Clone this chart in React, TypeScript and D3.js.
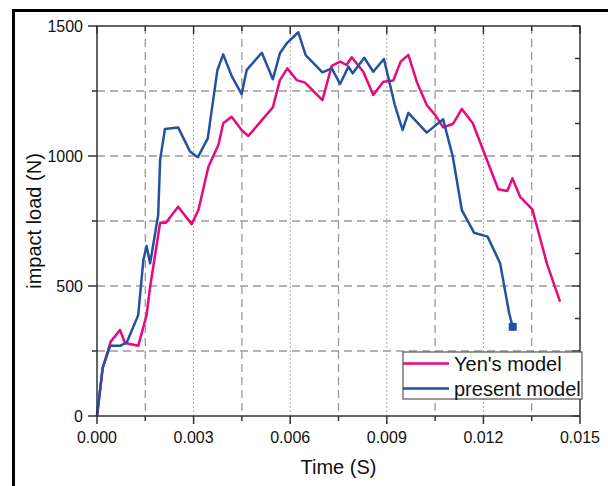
import React from "react";
import * as d3 from "d3";

const yenTime = [0, 0.000177, 0.000425, 0.000714, 0.00087, 0.00128, 0.00154, 0.00165, 0.00196, 0.00214, 0.00252, 0.00294, 0.00315, 0.00346, 0.00377, 0.00392, 0.00418, 0.00449, 0.0047, 0.00512, 0.00546, 0.00568, 0.00591, 0.0062, 0.00646, 0.007, 0.00729, 0.00755, 0.00775, 0.00791, 0.00827, 0.00858, 0.00889, 0.0092, 0.00943, 0.00967, 0.00993, 0.01024, 0.0105, 0.01075, 0.01105, 0.01133, 0.01167, 0.01246, 0.01274, 0.0129, 0.01314, 0.01352, 0.01397, 0.01438];
const yenLoad = [0, 185, 286, 331, 281, 270, 388, 497, 743, 743, 805, 738, 792, 959, 1042, 1126, 1151, 1100, 1077, 1138, 1187, 1292, 1337, 1292, 1282, 1215, 1347, 1363, 1350, 1380, 1324, 1235, 1286, 1290, 1363, 1389, 1286, 1196, 1158, 1110, 1123, 1181, 1126, 872, 865, 914, 843, 795, 587, 440];

const presentTime = [0, 0.000177, 0.00041, 0.000714, 0.00092, 0.00128, 0.00144, 0.00154, 0.00165, 0.0019, 0.00196, 0.00211, 0.00252, 0.00289, 0.00313, 0.00344, 0.00374, 0.00392, 0.00418, 0.00449, 0.00465, 0.00512, 0.00546, 0.00568, 0.00589, 0.00625, 0.00648, 0.007, 0.00729, 0.00755, 0.00781, 0.00794, 0.0083, 0.00858, 0.00891, 0.00925, 0.00949, 0.00967, 0.01024, 0.01075, 0.01105, 0.01133, 0.01171, 0.01213, 0.01252, 0.0128, 0.01291];
const presentLoad = [0, 185, 270, 270, 282, 388, 600, 654, 587, 773, 985, 1104, 1110, 1017, 995, 1068, 1331, 1391, 1308, 1238, 1331, 1397, 1295, 1395, 1433, 1476, 1388, 1322, 1337, 1277, 1344, 1318, 1378, 1324, 1373, 1196, 1100, 1166, 1090, 1141, 997, 792, 705, 690, 587, 395, 343];

const xTickLabels = ["0.000", "0.003", "0.006", "0.009", "0.012", "0.015"];
const yTickLabels = ["0", "500", "1000", "1500"];
const seriesNames = ["Yen's model", "present model"];
const seriesColors = ["#e8097a", "#2352a3"];

const W = 608, H = 486;
const m = { left: 97, right: 580, top: 26, bottom: 416 };
const FONT = "Liberation Sans, Arial, sans-serif";

export default function App() {
  const x = d3.scaleLinear().domain([0, 0.015]).range([m.left, m.right]);
  const y = d3.scaleLinear().domain([0, 1500]).range([m.bottom, m.top]);
  const line = d3.line<[number, number]>().x(d => x(d[0])).y(d => y(d[1]));
  const yen: [number, number][] = yenTime.map((t, i) => [t, yenLoad[i]]);
  const pres: [number, number][] = presentTime.map((t, i) => [t, presentLoad[i]]);

  const xMinor = d3.range(0, 11).map(i => i * 0.0015);
  const yMinor = d3.range(0, 7).map(i => i * 250);
  const yRight = d3.range(0, 13).map(i => i * 125);
  const last = pres[pres.length - 1];
  const axisColor = "#333";
  const gridColor = "#9a9a9a";

  const lx = 403, ly = 352, lw = 179, lh = 47;

  return (
    <svg width={W} height={H} style={{ position: "absolute", left: 0, top: 0, display: "block" }} fontFamily={FONT}>
      <rect x={0} y={0} width={W} height={H} fill="#fff" />
      {/* grid */}
      {yMinor.filter(v => v > 0 && v < 1500).map(v => (
        <line key={"hg" + v} x1={m.left} x2={m.right} y1={y(v)} y2={y(v)} stroke={gridColor} strokeWidth={1.3} strokeDasharray="8 5" />
      ))}
      {xMinor.filter((v, i) => i > 0 && i < 10).map((v, i) => {
        const major = (i + 1) % 2 === 0;
        return (
          <line key={"vg" + i} x1={x(v)} x2={x(v)} y1={m.top} y2={m.bottom} stroke={major ? "#aaa" : gridColor}
            strokeWidth={major ? 1 : 1.3} strokeDasharray={major ? "2 2" : "8 5"} />
        );
      })}
      {/* series */}
      <path d={line(yen) || ""} fill="none" stroke={seriesColors[0]} strokeWidth={2.5} strokeLinejoin="round" />
      <path d={line(pres) || ""} fill="none" stroke={seriesColors[1]} strokeWidth={2.5} strokeLinejoin="round" />
      <rect x={x(last[0]) - 4} y={y(last[1]) - 4} width={8} height={8} fill={seriesColors[1]} />
      {/* axes frame */}
      <rect x={m.left} y={m.top} width={m.right - m.left} height={m.bottom - m.top} fill="none" stroke={axisColor} strokeWidth={1.5} />
      {/* left ticks */}
      {yMinor.map((v, i) => (
        <line key={"lt" + v} x1={m.left - (i % 2 === 0 ? 9 : 5)} x2={m.left} y1={y(v)} y2={y(v)} stroke={axisColor} strokeWidth={1.5} />
      ))}
      {/* right ticks inward */}
      {yRight.map((v, i) => (
        <line key={"rt" + v} x1={m.right - (i % 2 === 0 ? 8 : 5)} x2={m.right} y1={y(v)} y2={y(v)} stroke={axisColor} strokeWidth={1.5} />
      ))}
      {/* bottom ticks */}
      {xMinor.map((v, i) => (
        <line key={"bt" + i} x1={x(v)} x2={x(v)} y1={m.bottom} y2={m.bottom + (i % 2 === 0 ? 8 : 5)} stroke={axisColor} strokeWidth={1.5} />
      ))}
      {/* top ticks inward */}
      {xMinor.map((v, i) => (
        <line key={"tt" + i} x1={x(v)} x2={x(v)} y1={m.top} y2={m.top + (i % 2 === 0 ? 8 : 5)} stroke={axisColor} strokeWidth={1.5} />
      ))}
      {/* tick labels */}
      {yTickLabels.map(t => (
        <text key={"yl" + t} x={m.left - 14} y={y(+t)} dy="0.35em" textAnchor="end" fontSize={16} fill="#111">{t}</text>
      ))}
      {xTickLabels.map(t => (
        <text key={"xl" + t} x={x(+t)} y={443} textAnchor="middle" fontSize={16} fill="#111">{t}</text>
      ))}
      {/* titles */}
      <text x={(m.left + m.right) / 2} y={474} textAnchor="middle" fontSize={20} fill="#111">Time (S)</text>
      <text transform={`translate(41,${(m.top + m.bottom) / 2}) rotate(-90)`} textAnchor="middle" fontSize={20} fill="#111">impact load (N)</text>
      {/* legend */}
      <rect x={lx} y={ly} width={lw} height={lh} fill="#fff" stroke="#555" strokeWidth={1.2} />
      {seriesNames.map((n, i) => (
        <g key={n}>
          <line x1={lx} x2={lx + 46} y1={ly + 11.5 + i * 25} y2={ly + 11.5 + i * 25} stroke={seriesColors[i]} strokeWidth={2.5} />
          <text x={lx + 51} y={ly + 18.5 + i * 25} fontSize={20} fill="#111">{n}</text>
        </g>
      ))}
      {/* outer border */}
      <rect x={13.5} y={10.5} width={700} height={600} fill="none" stroke="#000" strokeWidth={3} />
    </svg>
  );
}
